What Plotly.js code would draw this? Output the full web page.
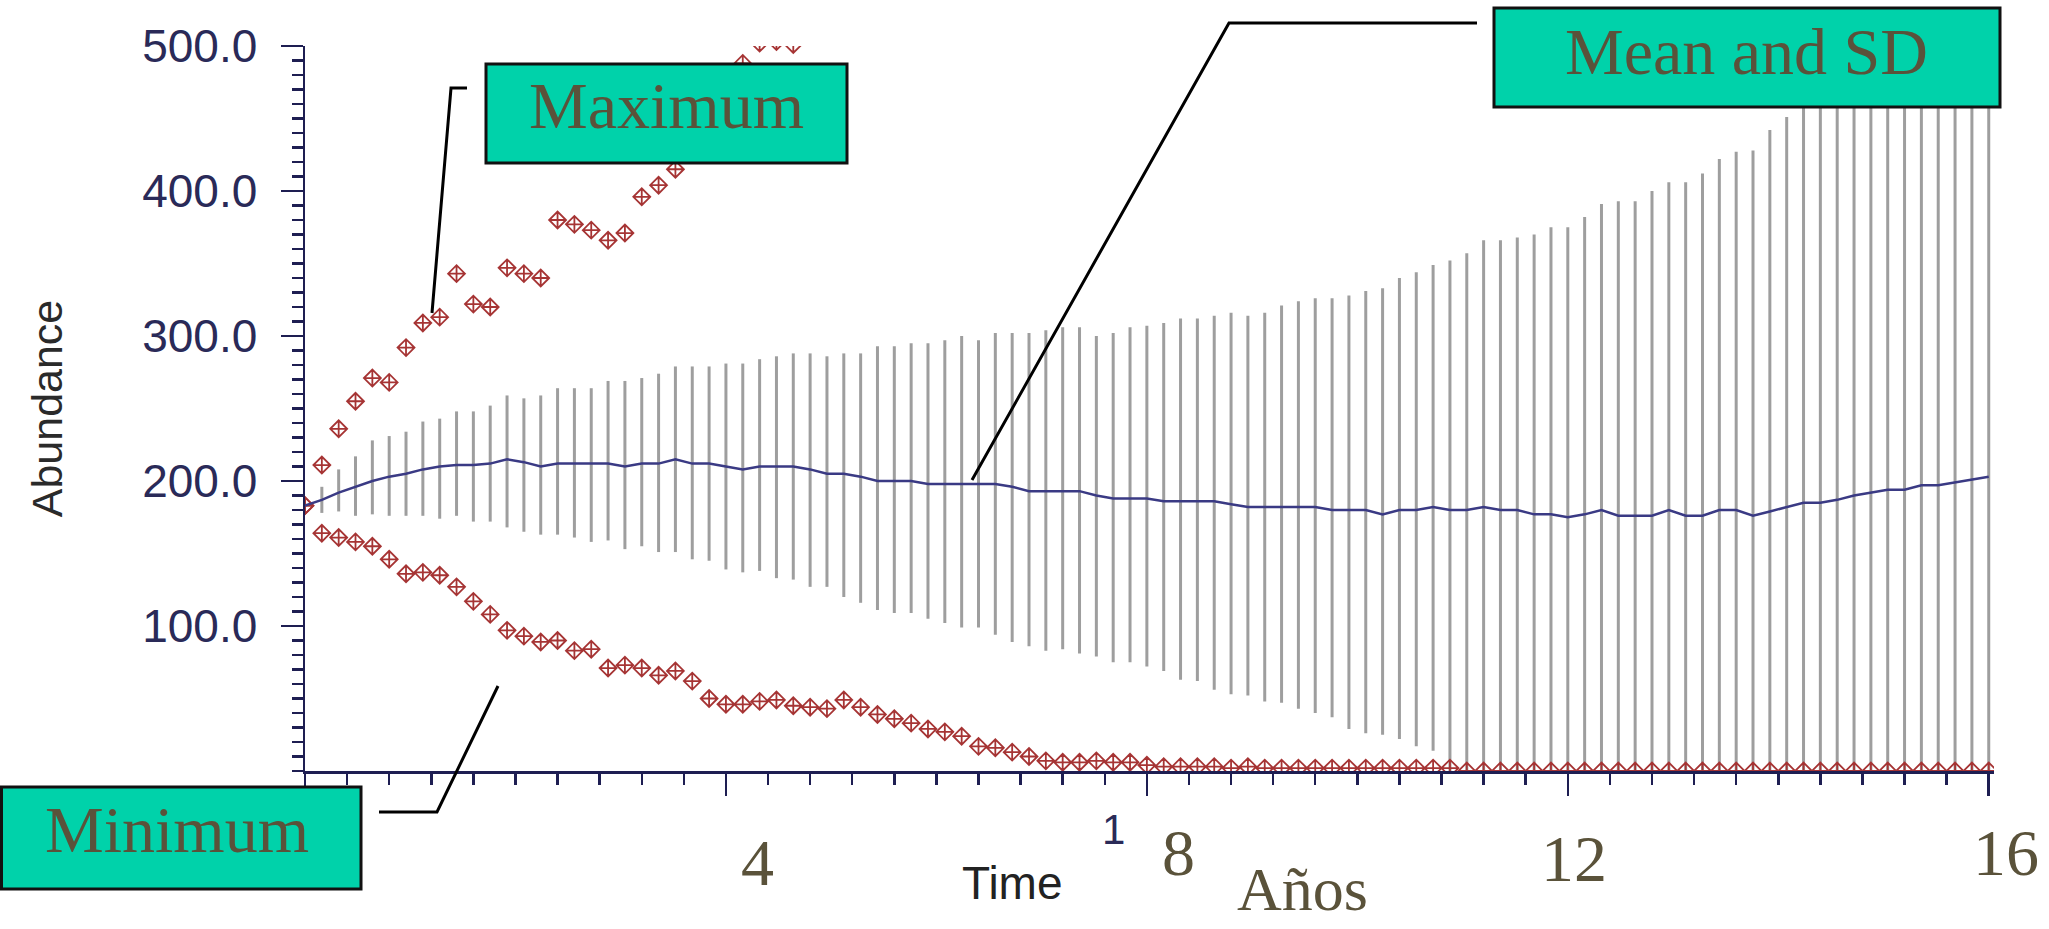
<!DOCTYPE html>
<html>
<head>
<meta charset="utf-8">
<script src="https://cdn.plot.ly/plotly-3.0.1.min.js"></script>
<style>
  html, body { margin: 0; padding: 0; background: #ffffff; }
  #chart { width: 2049px; height: 929px; }
</style>
</head>
<body>
<div id="chart"></div>
<script>
// ---------------- data ----------------
// time axis, in years (one value per simulation step)
const years = [0,0.16,0.32,0.48,0.64,0.8,0.96,1.12,1.28,1.44,
  1.6,1.76,1.92,2.08,2.24,2.4,2.56,2.72,2.88,3.04,
  3.2,3.36,3.52,3.68,3.84,4,4.16,4.32,4.48,4.64,
  4.8,4.96,5.12,5.28,5.44,5.6,5.76,5.92,6.08,6.24,
  6.4,6.56,6.72,6.88,7.04,7.2,7.36,7.52,7.68,7.84,
  8,8.16,8.32,8.48,8.64,8.8,8.96,9.12,9.28,9.44,
  9.6,9.76,9.92,10.08,10.24,10.4,10.56,10.72,10.88,11.04,
  11.2,11.36,11.52,11.68,11.84,12,12.16,12.32,12.48,12.64,
  12.8,12.96,13.12,13.28,13.44,13.6,13.76,13.92,14.08,14.24,
  14.4,14.56,14.72,14.88,15.04,15.2,15.36,15.52,15.68,15.84,16];

// mean abundance
const meanAbundance = [183,187,192,196,200,203,205,208,210,211,
  211,212,215,213,210,212,212,212,212,210,
  212,212,215,212,212,210,208,210,210,210,
  208,205,205,203,200,200,200,198,198,198,
  198,198,196,193,193,193,193,190,188,188,
  188,186,186,186,186,184,182,182,182,182,
  182,180,180,180,177,180,180,182,180,180,
  182,180,180,177,177,175,177,180,176,176,
  176,180,176,176,180,180,176,179,182,185,
  185,187,190,192,194,194,197,197,199,201,203];

// mean + SD (top of the grey bars)
const sdUpper = [183,196,208,217,228,231,234,241,243,248,
  248,252,259,257,259,264,264,264,269,269,
  271,274,279,279,279,281,281,284,286,288,
  288,286,288,288,293,293,295,295,297,300,
  297,302,302,302,304,306,306,300,302,306,
  307,309,312,312,314,316,314,316,321,324,
  326,326,328,331,333,340,344,349,352,357,
  366,366,368,370,375,375,382,391,393,393,
  400,406,406,412,422,427,428,442,451,462,
  468,474,480,486,492,498,504,510,516,522,528];

// mean - SD (bottom of the grey bars, truncated at 0)
const sdLower = [183,178,179,176,177,176,176,176,174,176,
  172,172,168,165,163,163,161,158,159,153,
  155,151,151,146,145,139,137,138,133,132,
  127,127,120,116,111,109,109,105,102,99,
  99,94,89,86,83,84,81,79,75,75,
  72,69,63,62,56,53,52,48,47,43,
  40,37,29,26,25,22,17,14,0,0,
  0,0,0,0,0,0,0,0,0,0,
  0,0,0,0,0,0,0,0,0,0,
  0,0,0,0,0,0,0,0,0,0,0];

// minimum abundance
const minAbundance = [183,164,161,158,155,146,136,137,135,127,
  117,108,97,93,89,90,83,84,71,73,
  71,66,69,62,50,46,46,48,49,45,
  44,43,49,44,39,36,33,29,27,24,
  17,16,13,10,7,6,6,7,6,6,
  4,3,3,3,3,2,3,2,2,2,
  2,2,2,2,2,2,2,2,2,0,
  0,0,0,0,0,0,0,0,0,0,
  0,0,0,0,0,0,0,0,0,0,
  0,0,0,0,0,0,0,0,0,0,0];

// maximum abundance (goes off the top of the chart after ~4.6 years)
const maxAbundance = [183,211,236,255,271,268,292,309,313,343,
  322,320,347,343,340,380,377,373,366,371,
  396,404,415,428,442,457,488,502,503,501,
  null,null,null,null,null,null,null,null,null,null,
  null,null,null,null,null,null,null,null,null,null,
  null,null,null,null,null,null,null,null,null,null,
  null,null,null,null,null,null,null,null,null,null,
  null,null,null,null,null,null,null,null,null,null,
  null,null,null,null,null,null,null,null,null,null,
  null,null,null,null,null,null,null,null,null,null,null];

// axis ticks and labels
const yTickVals = [100, 200, 300, 400, 500];
const xTickVals = [4, 8, 12, 16];
const xTickLabels = ['4', '8', '12', '16'];
const xTitleOriginal = 'Time';
const xTitleOverlay = 'Años';
const yTitle = 'Abundance';
const calloutTexts = ['Maximum', 'Mean and SD', 'Minimum'];

// ---------------- layout helpers (pixel -> paper) ----------------
const L = 305, T = 46, PW = 1689, PH = 725;
function px(x) { return (x - L) / PW; }
function py(y) { return (T + PH - y) / PH; }

const navy = '#1e1e52';
const serifColor = '#5a523a';
const teal = '#00D2AA';
const markerRed = '#a63434';

const errPlus = sdUpper.map((v, i) => v - meanAbundance[i]);
const errMinus = sdLower.map((v, i) => meanAbundance[i] - v);

const traces = [
  {
    x: years, y: meanAbundance, type: 'scatter', mode: 'markers',
    marker: { size: 1, opacity: 0 },
    error_y: { type: 'data', symmetric: false, array: errPlus, arrayminus: errMinus,
               color: '#9e9e9e', thickness: 3, width: 0 },
    hoverinfo: 'skip', showlegend: false
  },
  {
    x: years, y: minAbundance, type: 'scatter', mode: 'markers',
    marker: { symbol: 'diamond-cross-open', size: 13, color: markerRed, line: { width: 1.8, color: markerRed } },
    showlegend: false
  },
  {
    x: years, y: maxAbundance, type: 'scatter', mode: 'markers',
    marker: { symbol: 'diamond-cross-open', size: 13, color: markerRed, line: { width: 1.8, color: markerRed } },
    showlegend: false
  },
  {
    x: years, y: meanAbundance, type: 'scatter', mode: 'lines',
    line: { color: '#3a3a84', width: 2.5 },
    showlegend: false
  }
];

// callout boxes (pixel geometry)
const boxes = [
  { x0: 486, x1: 847, y0: 64, y1: 163, tx: 666, ty: 105 },
  { x0: 1494, x1: 2000, y0: 8, y1: 107, tx: 1746, ty: 52 },
  { x0: 1.5, x1: 361, y0: 787, y1: 889, tx: 177, ty: 830 }
];
const leaders = [
  [[467, 88], [451, 88], [432, 313]],
  [[1477, 23], [1229, 23], [972, 480]],
  [[379, 812], [437, 812], [498, 686]]
];

const shapes = [];
boxes.forEach(b => shapes.push({
  type: 'rect', xref: 'paper', yref: 'paper', layer: 'above',
  x0: px(b.x0), x1: px(b.x1), y0: py(b.y1), y1: py(b.y0),
  fillcolor: teal, line: { color: '#111111', width: 3 }
}));
leaders.forEach(pts => shapes.push({
  type: 'path', xref: 'paper', yref: 'paper', layer: 'above',
  path: pts.map((p, i) => (i ? 'L ' : 'M ') + px(p[0]) + ',' + py(p[1])).join(' '),
  line: { color: '#000000', width: 3 }
}));

const annotations = [];
boxes.forEach((b, i) => annotations.push({
  xref: 'paper', yref: 'paper', x: px(b.tx), y: py(b.ty),
  xanchor: 'center', yanchor: 'middle', showarrow: false,
  text: calloutTexts[i],
  font: { family: 'Liberation Serif', size: 66, color: serifColor }
}));

// overlay year labels under the x axis
const xLabelShift = [32, 32, 6, 17];
const xLabelY = [862, 852, 858, 852];
xTickVals.forEach((v, i) => annotations.push({
  xref: 'x', yref: 'paper', x: v, xshift: xLabelShift[i], y: py(xLabelY[i]),
  xanchor: 'center', yanchor: 'middle', showarrow: false,
  text: xTickLabels[i],
  font: { family: 'Liberation Serif', size: 66, color: serifColor }
}));
annotations.push({
  xref: 'paper', yref: 'paper', x: px(1302), y: py(889),
  xanchor: 'center', yanchor: 'middle', showarrow: false,
  text: xTitleOverlay,
  font: { family: 'Liberation Serif', size: 62, color: serifColor }
});
annotations.push({
  xref: 'paper', yref: 'paper', x: px(1012), y: py(883),
  xanchor: 'center', yanchor: 'middle', showarrow: false,
  text: xTitleOriginal,
  font: { family: 'Liberation Sans', size: 46, color: '#222222' }
});
// remnant of an original tick label left uncovered
annotations.push({
  xref: 'paper', yref: 'paper', x: px(1113), y: py(830),
  xanchor: 'center', yanchor: 'middle', showarrow: false,
  text: '1',
  font: { family: 'Liberation Sans', size: 42, color: '#2a2a58' }
});

const layout = {
  width: 2049, height: 929,
  margin: { l: 305, r: 55, t: 46, b: 158, pad: 0 },
  paper_bgcolor: '#ffffff', plot_bgcolor: '#ffffff',
  font: { family: 'Liberation Sans', color: '#2a2a58' },
  showlegend: false,
  xaxis: {
    range: [0, 16.05], showgrid: false, zeroline: false,
    showline: true, linecolor: navy, linewidth: 2.5,
    ticks: 'outside', tickvals: [0].concat(xTickVals), ticklen: 22, tickwidth: 2.5, tickcolor: navy,
    showticklabels: false,
    minor: { dtick: 0.4, tick0: 0, ticks: 'outside', ticklen: 11, tickwidth: 2.5, tickcolor: navy, showgrid: false }
  },
  yaxis: {
    range: [0, 500], showgrid: false, zeroline: false,
    showline: true, linecolor: navy, linewidth: 2.5,
    ticks: 'outside', tickvals: yTickVals, tickformat: '.1f', ticklen: 22, tickwidth: 2.5, tickcolor: navy,
    ticklabelstandoff: 14,
    tickfont: { family: 'Liberation Sans', size: 46, color: '#2a2a58' },
    minor: { dtick: 10, tick0: 0, ticks: 'outside', ticklen: 11, tickwidth: 2.5, tickcolor: navy, showgrid: false },
    title: { text: yTitle, standoff: 66, font: { family: 'Liberation Sans', size: 43, color: '#2a2a2a' } }
  },
  shapes: shapes,
  annotations: annotations
};

Plotly.newPlot('chart', traces, layout, { displayModeBar: false, staticPlot: true });
</script>
</body>
</html>
